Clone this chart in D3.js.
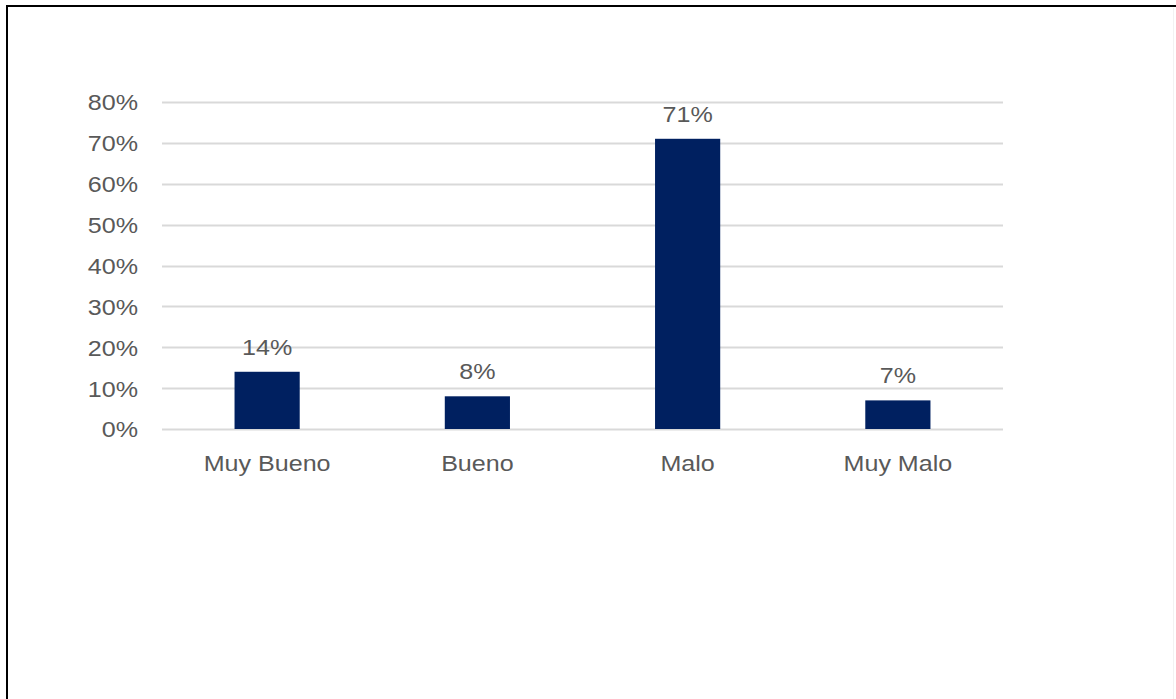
<!DOCTYPE html>
<html>
<head>
<meta charset="utf-8">
<script src="https://cdn.jsdelivr.net/npm/d3@7"></script>
<style>
  html, body { margin: 0; padding: 0; background: #fff; }
  svg { display: block; }
  .stretch-mid { transform-box: fill-box; transform-origin: 50% 50%; transform: scaleX(1.14); }
  .stretch-end { transform-box: fill-box; transform-origin: 100% 50%; transform: scaleX(1.14); }
</style>
</head>
<body>
<svg id="chart" width="1176" height="699"></svg>
<script>
const categories = ["Muy Bueno", "Bueno", "Malo", "Muy Malo"];
const values = [0.14, 0.08, 0.71, 0.07];
const valueLabels = ["14%", "8%", "71%", "7%"];
const yTicks = [0, 0.1, 0.2, 0.3, 0.4, 0.5, 0.6, 0.7, 0.8];

(function () {
const svg = d3.select("#chart");
const W = 1176, H = 699;

// frame
svg.append("rect").attr("x", 0).attr("y", 0).attr("width", W).attr("height", H).attr("fill", "#fff");
svg.append("line").attr("x1", 6).attr("x2", W).attr("y1", 6).attr("y2", 6)
  .attr("stroke", "#000").attr("stroke-width", 2);
svg.append("line").attr("x1", 7).attr("x2", 7).attr("y1", 5).attr("y2", H)
  .attr("stroke", "#000").attr("stroke-width", 2);
svg.append("line").attr("x1", 1173.5).attr("x2", 1173.5).attr("y1", 8).attr("y2", H)
  .attr("stroke", "#f2f2f2").attr("stroke-width", 1);

const pLeft = 162, pRight = 1003, pTop = 102, pBottom = 429;

const x = d3.scaleBand().domain(categories).range([pLeft, pRight]).paddingInner(0.69).paddingOuter(0.345);
const y = d3.scaleLinear().domain([0, 0.8]).range([pBottom, pTop]);

const font = "'Liberation Sans', Arial, sans-serif";
const textColor = "#595959";
const fs = 22;

// gridlines
svg.append("g").selectAll("line").data(yTicks).join("line")
  .attr("x1", pLeft).attr("x2", pRight)
  .attr("y1", d => Math.round(y(d)) + 0.5).attr("y2", d => Math.round(y(d)) + 0.5)
  .attr("stroke", "#d9d9d9").attr("stroke-width", 2);

// y axis labels
const yAxis = d3.axisLeft(y).tickValues(yTicks).tickFormat(d3.format(".0%")).tickSize(0).tickPadding(0);
const gy = svg.append("g").attr("transform", `translate(${pLeft - 24},0)`).call(yAxis);
gy.select(".domain").remove();
gy.selectAll("text").attr("font-family", font).attr("font-size", fs).attr("fill", textColor)
  .attr("dy", "0.36em").attr("class", "stretch-end");

// bars
svg.append("g").selectAll("rect").data(values).join("rect")
  .attr("x", (d, i) => x(categories[i]))
  .attr("y", d => y(d))
  .attr("width", x.bandwidth())
  .attr("height", d => y(0) - y(d))
  .attr("fill", "#002060");

// value labels
svg.append("g").selectAll("text").data(values).join("text")
  .attr("x", (d, i) => x(categories[i]) + x.bandwidth() / 2)
  .attr("y", d => y(d) - 17)
  .attr("text-anchor", "middle")
  .attr("class", "stretch-mid")
  .attr("font-family", font).attr("font-size", fs).attr("fill", textColor)
  .text((d, i) => valueLabels[i]);

// x axis labels
const xAxis = d3.axisBottom(x).tickSize(0).tickPadding(0);
const gx = svg.append("g").attr("transform", `translate(0,${pBottom + 42})`).call(xAxis);
gx.select(".domain").remove();
gx.selectAll("text").attr("font-family", font).attr("font-size", fs).attr("fill", textColor)
  .attr("dy", "0").attr("class", "stretch-mid");
})();
</script>
</body>
</html>
